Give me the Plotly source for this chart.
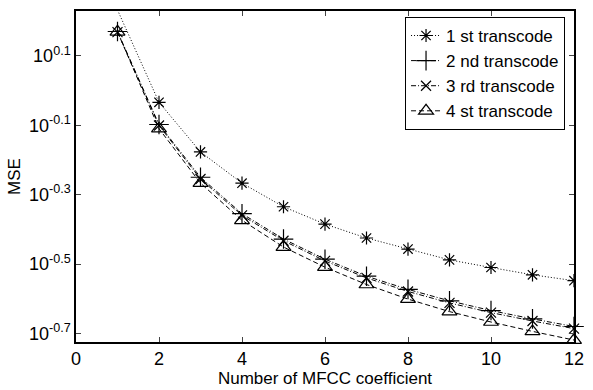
import plotly.graph_objects as go

x = list(range(1, 13))
# log10(MSE)
log_s1 = [0.232, -0.034, -0.177, -0.267, -0.335, -0.385, -0.425, -0.457, -0.488, -0.510, -0.531, -0.548]
log_s2 = [0.170, -0.098, -0.250, -0.355, -0.428, -0.486, -0.535, -0.573, -0.606, -0.634, -0.658, -0.680]
log_s3 = [0.168, -0.101, -0.255, -0.360, -0.433, -0.491, -0.540, -0.579, -0.612, -0.640, -0.664, -0.686]
log_s4 = [0.169, -0.110, -0.267, -0.374, -0.451, -0.509, -0.559, -0.601, -0.637, -0.667, -0.694, -0.719]
names = ["1 st transcode", "2 nd transcode", "3 rd transcode", "4 st transcode"]
ytick_exp = [0.1, -0.1, -0.3, -0.5, -0.7]
xticks = [0, 2, 4, 6, 8, 10, 12]

series = [log_s1, log_s2, log_s3, log_s4]
symbols = ["asterisk-open", "cross-thin-open", "x-thin-open", "triangle-up-open"]
dashes = ["1px,2px", "5px,2px,1px,2px", "5px,2px,1px,2px", "5px,3px"]
sizes = [11, 14, 10, 13]

fig = go.Figure()
for i, (s, n) in enumerate(zip(series, names)):
    fig.add_trace(go.Scatter(
        x=x, y=[10 ** v for v in s], name=n, mode="lines+markers",
        line=dict(color="black", width=1, dash=dashes[i]),
        marker=dict(symbol=symbols[i], size=sizes[i], color="black",
                    line=dict(color="black", width=1.2)),
        cliponaxis=(i == 0),
    ))

font = "Liberation Sans, Arial, sans-serif"
fig.update_layout(
    width=593, height=390,
    margin=dict(l=76, r=10, t=9, b=43),
    plot_bgcolor="white", paper_bgcolor="white",
    font=dict(family=font, size=17, color="black"),
    showlegend=True,
    legend=dict(x=0.982, y=0.982, xanchor="right", yanchor="top",
                bgcolor="white", bordercolor="black", borderwidth=1,
                font=dict(size=17), tracegroupgap=0, itemwidth=30),
)
fig.update_xaxes(
    range=[0, 12], tickvals=xticks, ticks="inside", ticklen=5,
    showline=True, linecolor="black", linewidth=1.5, mirror="ticks",
    showgrid=False, zeroline=False, tickfont=dict(size=18),
    title=dict(text="Number of MFCC coefficient", font=dict(size=17), standoff=0),
)
fig.update_yaxes(
    type="log", range=[-0.7246, 0.229],
    tickvals=[10 ** e for e in ytick_exp],
    ticktext=["10<sup>%s</sup>" % e for e in ytick_exp],
    ticks="inside", ticklen=5,
    showline=True, linecolor="black", linewidth=1.5, mirror="ticks",
    showgrid=False, zeroline=False, tickfont=dict(size=18),
    title=dict(text="MSE", font=dict(size=17), standoff=4),
)
fig.write_html("out.html")
